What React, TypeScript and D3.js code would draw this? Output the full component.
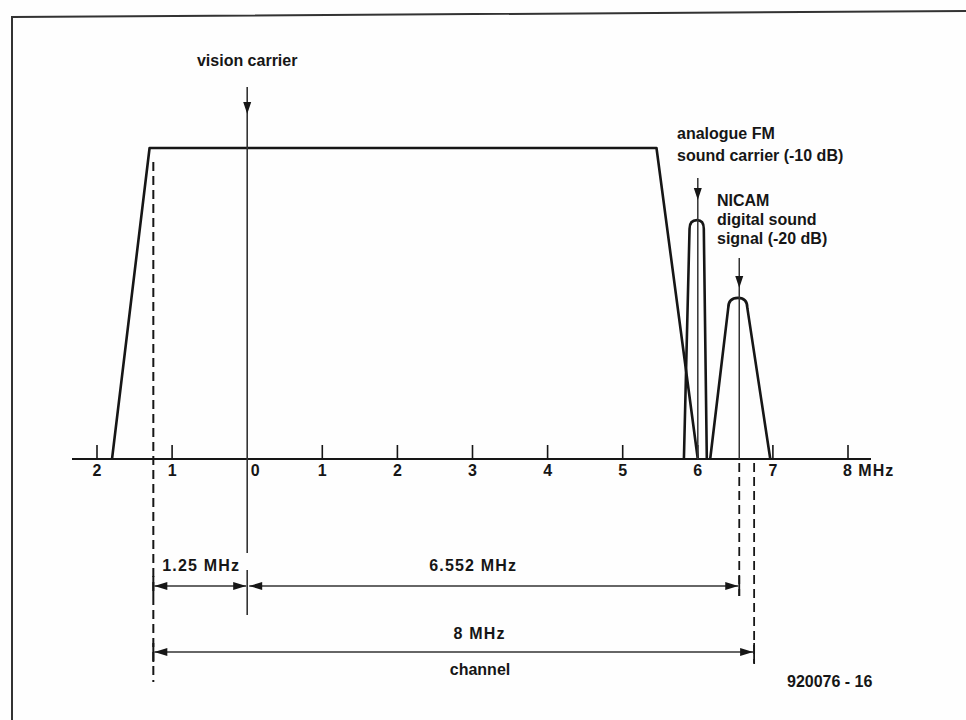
import React from "react";
import * as d3 from "d3";

// ---- data (MHz relative to vision carrier, level relative to band top) ----
const tickValues = [-2, -1, 0, 1, 2, 3, 4, 5, 6, 7, 8];
const tickLabels = ["2", "1", "0", "1", "2", "3", "4", "5", "6", "7", "8 MHz"];

const bandMHz = [-1.8, -1.3, 5.45, 6.0];
const bandLevel = [0, 1, 1, 0];

const fmLobeMHz = [5.815, 5.89, 5.99, 6.08, 6.12];
const fmLobeLevel = [0, 0.74, 0.768, 0.74, 0];

const nicamLobeMHz = [6.165, 6.405, 6.535, 6.66, 6.965];
const nicamLobeLevel = [0, 0.485, 0.518, 0.485, 0];

const visionCarrierMHz = 0;
const fmCarrierMHz = 6.0;
const nicamCarrierMHz = 6.552;
const channelLowMHz = -1.25;
const channelHighMHz = 6.75;

const dimFrom = [-1.25, 0, -1.25];
const dimTo = [0, 6.552, 6.75];
const dimLabels = ["1.25 MHz", "6.552 MHz", "8 MHz"];

const W = 966;
const H = 720;
const FONT = "'Liberation Sans', Arial, Helvetica, sans-serif";
const INK = "#161616";

function arrowHead(tx: number, ty: number, dir: "down" | "left" | "right", len = 12, hw = 4) {
  if (dir === "down") return `M${tx},${ty} L${tx - hw},${ty - len} L${tx + hw},${ty - len} Z`;
  if (dir === "left") return `M${tx},${ty} L${tx + len},${ty - hw} L${tx + len},${ty + hw} Z`;
  return `M${tx},${ty} L${tx - len},${ty - hw} L${tx - len},${ty + hw} Z`;
}

function lobePath(fs: number[], ls: number[], x: d3.ScaleLinear<number, number>, y: d3.ScaleLinear<number, number>) {
  const p = d3.path();
  p.moveTo(x(fs[0]), y(ls[0]));
  p.lineTo(x(fs[1]), y(ls[1]));
  p.quadraticCurveTo(x(fs[1]), y(ls[2]), x(fs[2]), y(ls[2]));
  p.quadraticCurveTo(x(fs[3]), y(ls[2]), x(fs[3]), y(ls[3]));
  p.lineTo(x(fs[4]), y(ls[4]));
  return p.toString();
}

export default function App() {
  const x = d3.scaleLinear().domain([-2, 8]).range([97, 848]);
  const y = d3.scaleLinear().domain([0, 1]).range([459, 148]);
  const y0 = y(0);

  const bandLine = d3
    .line<number>()
    .x((d) => x(d))
    .y((_, i) => y(bandLevel[i]));

  const dimY = [586, 586, 652];
  const dimTextY = [571, 571, 639];
  const dimTextDx = [1, -20, 26];

  const textStyle: React.CSSProperties = { fontFamily: FONT, fontWeight: 700, fontSize: 16, fill: INK };

  return (
    <svg width={W} height={H} style={{ position: "absolute", left: 0, top: 0, background: "#fff" }}>
      <rect width={W} height={H} fill="#fefefe" />
      {/* frame */}
      <polyline points={`12,${H} 12,17 ${W},11`} fill="none" stroke="#333" strokeWidth={2} />

      {/* axis */}
      <line x1={72} x2={871} y1={y0} y2={y0} stroke={INK} strokeWidth={2.2} />
      {tickValues.map((t, i) =>
        t === 0 ? null : (
          <line key={"t" + i} x1={x(t)} x2={x(t)} y1={y0} y2={y0 - 14} stroke={INK} strokeWidth={1.6} />
        )
      )}
      {tickValues.map((t, i) => {
        const lab = tickLabels[i];
        const isLast = i === tickValues.length - 1;
        const tx = t === 0 ? x(t) + 8 : isLast ? x(t) - 5 : x(t);
        return (
          <text
            key={"l" + i}
            x={tx}
            y={476}
            textAnchor={isLast ? "start" : "middle"}
            style={{ ...textStyle, letterSpacing: isLast ? 1 : 0 }}
          >
            {lab}
          </text>
        );
      })}

      {/* band trapezoid */}
      <path d={bandLine(bandMHz) || ""} fill="none" stroke={INK} strokeWidth={2.6} strokeLinejoin="round" />

      {/* sound lobes */}
      <path d={lobePath(fmLobeMHz, fmLobeLevel, x, y)} fill="none" stroke={INK} strokeWidth={2.6} />
      <path d={lobePath(nicamLobeMHz, nicamLobeLevel, x, y)} fill="none" stroke={INK} strokeWidth={2.6} />

      {/* carrier lines with arrows */}
      <line x1={x(visionCarrierMHz)} x2={x(visionCarrierMHz)} y1={87} y2={553} stroke="#333" strokeWidth={1.6} />
      <path d={arrowHead(x(visionCarrierMHz), 114, "down")} fill={INK} />
      <line x1={x(fmCarrierMHz)} x2={x(fmCarrierMHz)} y1={178} y2={y0} stroke="#333" strokeWidth={1.5} />
      <path d={arrowHead(x(fmCarrierMHz), 200, "down")} fill={INK} />
      <line x1={x(nicamCarrierMHz)} x2={x(nicamCarrierMHz)} y1={258} y2={y0} stroke="#333" strokeWidth={1.5} />
      <path d={arrowHead(x(nicamCarrierMHz), 288, "down")} fill={INK} />

      {/* dashed reference lines */}
      <line x1={x(channelLowMHz)} x2={x(channelLowMHz)} y1={162} y2={682} stroke={INK} strokeWidth={2} strokeDasharray="9 5" />
      <line x1={x(nicamCarrierMHz)} x2={x(nicamCarrierMHz)} y1={463} y2={596} stroke={INK} strokeWidth={1.8} strokeDasharray="9 5" />
      <line x1={x(channelHighMHz)} x2={x(channelHighMHz)} y1={463} y2={664} stroke={INK} strokeWidth={1.8} strokeDasharray="9 5" />

      {/* vision carrier tick for dimension */}
      <line x1={x(visionCarrierMHz)} x2={x(visionCarrierMHz)} y1={570} y2={615} stroke="#333" strokeWidth={1.6} />
      {/* solid end ticks */}
      <line x1={x(channelLowMHz)} x2={x(channelLowMHz)} y1={576} y2={596} stroke={INK} strokeWidth={2} />
      <line x1={x(nicamCarrierMHz)} x2={x(nicamCarrierMHz)} y1={576} y2={596} stroke={INK} strokeWidth={1.8} />
      <line x1={x(channelLowMHz)} x2={x(channelLowMHz)} y1={643} y2={662} stroke={INK} strokeWidth={2} />
      <line x1={x(channelHighMHz)} x2={x(channelHighMHz)} y1={643} y2={663} stroke={INK} strokeWidth={1.8} />

      {/* dimension lines */}
      {dimFrom.map((f, i) => {
        const xa = x(f) + (i === 1 ? 2 : 1);
        const xb = x(dimTo[i]) - 1;
        const yy = dimY[i];
        return (
          <g key={"d" + i}>
            <line x1={xa} x2={xb} y1={yy} y2={yy} stroke="#333" strokeWidth={1.5} />
            <path d={arrowHead(xa, yy, "left", 13, 4)} fill={INK} />
            <path d={arrowHead(xb, yy, "right", 13, 4)} fill={INK} />
            <text
              x={(x(f) + x(dimTo[i])) / 2 + dimTextDx[i]}
              y={dimTextY[i]}
              textAnchor="middle"
              style={{ ...textStyle, letterSpacing: 1.2 }}
            >
              {dimLabels[i]}
            </text>
          </g>
        );
      })}
      <text x={480} y={675} textAnchor="middle" style={textStyle}>channel</text>

      {/* annotations */}
      <text x={x(visionCarrierMHz)} y={66} textAnchor="middle" style={textStyle}>vision carrier</text>
      <text x={677} y={139} style={textStyle}>analogue FM</text>
      <text x={677} y={161} style={textStyle}>sound carrier (-10 dB)</text>
      <text x={717} y={206} style={textStyle}>NICAM</text>
      <text x={717} y={225} style={textStyle}>digital sound</text>
      <text x={717} y={244} style={textStyle}>signal (-20 dB)</text>
      <text x={787} y={687} style={textStyle}>920076 - 16</text>
    </svg>
  );
}
